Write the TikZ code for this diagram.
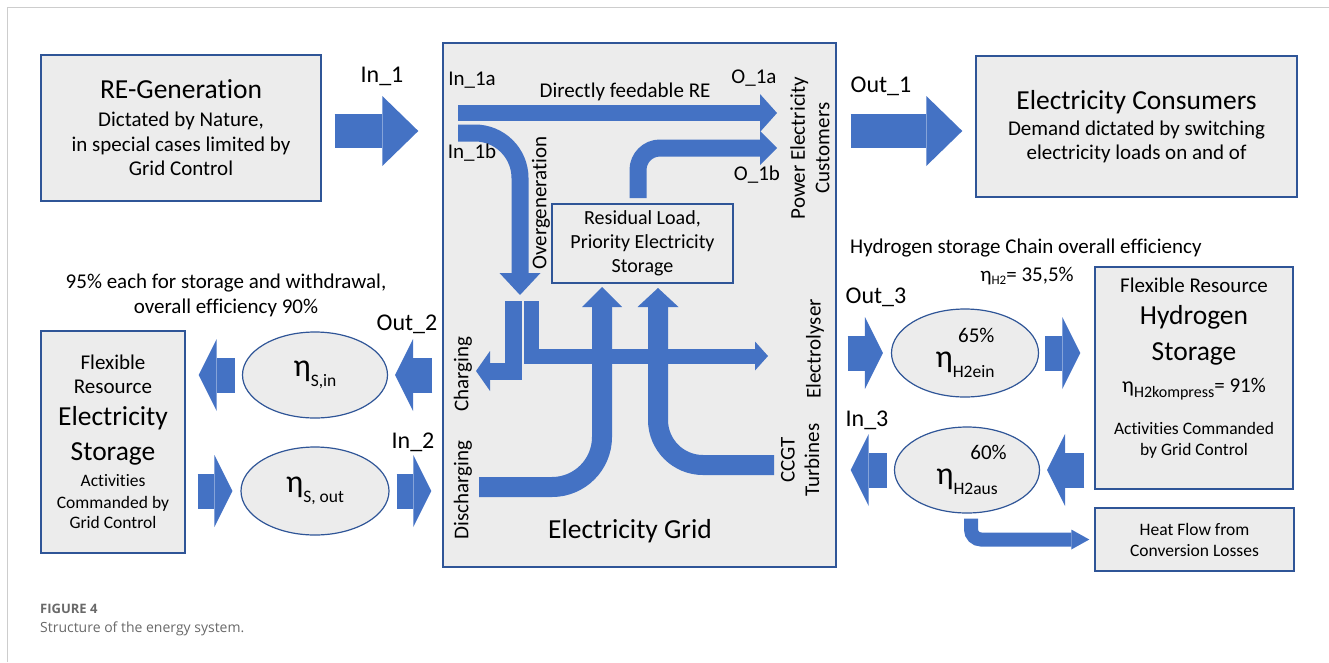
\documentclass[tikz,border=0pt]{standalone}
\usepackage{fontspec}
\setmainfont{Carlito}[Ligatures=NoCommon]
\newfontfamily\capfont{Open Sans}
\usetikzlibrary{arrows.meta,shapes.geometric,calc}
\definecolor{flowblue}{RGB}{68,114,196}
\definecolor{edge}{RGB}{47,85,151}
\definecolor{panelfill}{RGB}{236,236,236}
\definecolor{framegray}{RGB}{205,205,205}
\definecolor{capgray}{RGB}{105,105,105}
\newcommand\fbig{\fontsize{27.5}{31}\selectfont}
\newcommand\fmid{\fontsize{21}{24.5}\selectfont}
\newcommand\fsmall{\fontsize{17.5}{21}\selectfont}
\newcommand\flab{\fontsize{24}{28}\selectfont}
\newcommand\effsym[1]{{\fontsize{32}{32}\selectfont η}\raisebox{-10pt}{\fontsize{17.5}{17.5}\selectfont #1}}
\tikzset{
  panel/.style={draw=edge, line width=1.4pt, fill=panelfill, inner sep=0pt, align=center},
  lens/.style={ellipse, draw=edge, line width=1.2pt, fill=panelfill, inner sep=0pt},
  tag/.style={font=\flab, inner sep=0pt, anchor=base},
  note/.style={font=\fmid, inner sep=0pt},
  flow/.style={flowblue, line join=miter},
  pipe/.style n args={3}{flow, line width=#1, -{Triangle[length=#2, width=#3, line width=0pt]}},
  bigflow/.style={pipe={34pt}{36pt}{70pt}},
  stubflow/.style={pipe={35pt}{18pt}{72pt}},
}

\begin{document}
\begin{tikzpicture}[x=1pt, y=-1pt]
  \useasboundingbox (0,0) rectangle (1329,662);
  \draw[framegray, line width=1.2pt] (7.5,662) -- (7.5,7.5) -- (1329,7.5);

  % boxes
  \node (regen) [panel, minimum width=280pt, minimum height=146pt, font=\fmid] at (181,128)
    {{\fbig RE-Generation}\\[3.5pt] Dictated by Nature,\\ in special cases limited by\\ Grid Control};
  \node (grid) [panel, minimum width=393pt, minimum height=524pt] at (639.5,305) {};
  \node (consumers) [panel, minimum width=321pt, minimum height=141pt, font=\fmid] at (1136.5,126.5)
    {{\fbig Electricity Consumers}\\[1.5pt] Demand dictated by switching\\ electricity loads on and of};
  \node (storage) [panel, minimum width=144pt, minimum height=222pt, font=\fsmall] at (113,442)
    {{\fmid Flexible}\\[3pt] {\fmid Resource}\\[11pt] {\fbig Electricity}\\[12pt] {\fbig Storage}\\[5pt]
     Activities\\[1pt] Commanded by\\[-1pt] Grid Control};
  \node (h2store) [panel, minimum width=198pt, minimum height=222pt] at (1194,378) {};
  \node (h2text) [align=center, font=\fsmall, inner sep=0pt] at ([yshift=10pt]h2store.center)
    {{\fmid Flexible Resource}\\[11pt] {\fbig Hydrogen}\\[12pt] {\fbig Storage}\\[11pt]
     {\fontsize{22}{22}\selectfont η}\raisebox{-5pt}{\fontsize{16}{16}\selectfont H2kompress}{\fmid = 91\%}\\[21pt]
     Activities Commanded\\ by Grid Control};
  \node (heat) [panel, minimum width=199pt, minimum height=63pt, font=\fsmall] at (1194.5,539.5)
    {Heat Flow from\\ Conversion Losses};
  \node (resid) [panel, minimum width=181pt, minimum height=79pt, line width=1.2pt,
    font=\fontsize{20}{24}\selectfont] at (642.5,243.5)
    {Residual Load,\\ Priority Electricity\\ Storage};

  % efficiencies
  \node (sin) [lens, minimum width=145pt, minimum height=86pt] at (315,375) {\effsym{S,in}};
  \node (sout) [lens, minimum width=148pt, minimum height=88pt] at (315,491) {\effsym{S, out}};
  \node (h2ein) [lens, minimum width=147pt, minimum height=88pt, align=right, font=\fmid] at (965,353)
    {65\%\\ \effsym{H2ein}};
  \node (h2aus) [lens, minimum width=145pt, minimum height=86pt, align=right, font=\fmid] at (967,470)
    {60\%\hspace*{-9pt}\\ \effsym{H2aus}};

  % flows between the blocks
  \draw[bigflow, shorten <=13pt, shorten >=24pt] ([yshift=-3pt]regen.east) -- ([yshift=-3pt]regen.east -| grid.west);
  \draw[bigflow, shorten <=14pt, shorten >=13pt] ([yshift=-4.5pt]consumers.west -| grid.east) -- ([yshift=-4.5pt]consumers.west);
  \draw[stubflow, shorten <=10pt, shorten >=7pt] (sin.east -| grid.west) -- (sin.east);
  \draw[stubflow, shorten <=7pt, shorten >=13pt] (sin.west) -- (sin.west -| storage.east);
  \draw[stubflow, shorten <=12pt, shorten >=8pt] (sout.west -| storage.east) -- (sout.west);
  \draw[stubflow, shorten <=7pt, shorten >=11pt] (sout.east) -- (sout.east -| grid.west);
  \draw[stubflow, shorten <=11pt, shorten >=8pt] (h2ein.west -| grid.east) -- (h2ein.west);
  \draw[stubflow, shorten <=6pt, shorten >=14pt] (h2ein.east) -- (h2ein.east -| h2store.west);
  \draw[stubflow, shorten <=10pt, shorten >=7pt] (h2aus.east -| h2store.west) -- (h2aus.east);
  \draw[stubflow, shorten <=7pt, shorten >=14pt] (h2aus.west) -- (h2aus.west -| grid.east);
  \draw[pipe={14pt}{18pt}{20pt}, rounded corners=10pt, shorten <=5pt, shorten >=5pt]
    ([xshift=4pt]h2aus.south) |- (heat.west);

  % flows inside the grid
  \coordinate (in1a) at (458,113);
  \coordinate (o1a) at (777,113);
  \coordinate (in1b) at (458,133);
  \coordinate (overtip) at (520,295);
  \coordinate (residout) at (638,198);
  \coordinate (o1b) at (777,148);
  \coordinate (chargein) at (513,301);
  \coordinate (chargetip) at (476,371);
  \coordinate (elyin) at (531,301);
  \coordinate (elytip) at (768,356);
  \coordinate (dischin) at (479,487);
  \coordinate (dischtip) at (602,287);
  \coordinate (ccgtin) at (774,465);
  \coordinate (ccgttip) at (658,288);
  \draw[pipe={16pt}{17pt}{38pt}] (in1a) -- (o1a);
  \draw[pipe={17pt}{22pt}{41pt}, rounded corners=45pt] (in1b) -| (overtip);
  \draw[pipe={17pt}{17pt}{34pt}, rounded corners=22pt] (residout) |- (o1b);
  \draw[pipe={17pt}{14pt}{40pt}] (chargein) |- (chargetip);
  \draw[pipe={15pt}{13pt}{29pt}] (elyin) |- (elytip);
  \draw[pipe={20pt}{20pt}{40pt}, rounded corners=50pt] (dischin) -| (dischtip);
  \draw[pipe={20pt}{19pt}{41pt}, rounded corners=45pt] (ccgtin) -| (ccgttip);

  % labels
  \node (l_in1) [tag] at (382,82) {In\_1};
  \node (l_out1) [tag] at (881,92) {Out\_1};
  \node (l_out2) [tag] at (407,330) {Out\_2};
  \node (l_in2) [tag] at (413,448) {In\_2};
  \node (l_out3) [tag] at (876,303) {Out\_3};
  \node (l_in3) [tag] at (867,426) {In\_3};
  \node (l_in1a) [note, anchor=base] at (472,85) {In\_1a};
  \node (l_in1b) [note, anchor=base] at (472,158) {In\_1b};
  \node (l_o1a) [note, anchor=base] at (754,83) {O\_1a};
  \node (l_o1b) [note, anchor=base] at (757,180) {O\_1b};
  \node (l_direct) [note, anchor=base] at (625,97) {Directly feedable RE};
  \node (l_over) [note, rotate=90] at (541,203) {Overgeneration};
  \node (l_power) [note, rotate=90, align=center] at (810,148) {Power Electricity\\ Customers};
  \node (l_charge) [note, rotate=90] at (463,374) {Charging};
  \node (l_disch) [note, rotate=90] at (463,490) {Discharging};
  \node (l_ely) [note, rotate=90] at (815,349) {Electrolyser};
  \node (l_ccgt) [note, rotate=90, align=center] at (800,460) {CCGT\\ Turbines};
  \node (l_grid) [inner sep=0pt, anchor=base, font=\fbig] at (630,538) {Electricity Grid};
  \node (l_seff) [note, align=center, anchor=base] at (226,313)
    {95\% each for storage and withdrawal,\\ overall efficiency 90\%};
  \node (l_heff) [note, anchor=base west] at (850,253) {Hydrogen storage Chain overall efficiency};
  \node (l_h2eff) [note, anchor=base] at (1027,281)
    {η\raisebox{-3pt}{\fontsize{13}{13}\selectfont H2}= 35,5\%};

  % caption
  \node (capno) [anchor=base west, inner sep=0pt, text=capgray,
    font=\capfont\bfseries\fontsize{13}{15}\selectfont] at (40,613) {FIGURE 4};
  \node (captext) [anchor=base west, inner sep=0pt, text=capgray,
    font=\capfont\fontsize{14}{17}\selectfont] at (40,632) {Structure of the energy system.};
\end{tikzpicture}
\end{document}
